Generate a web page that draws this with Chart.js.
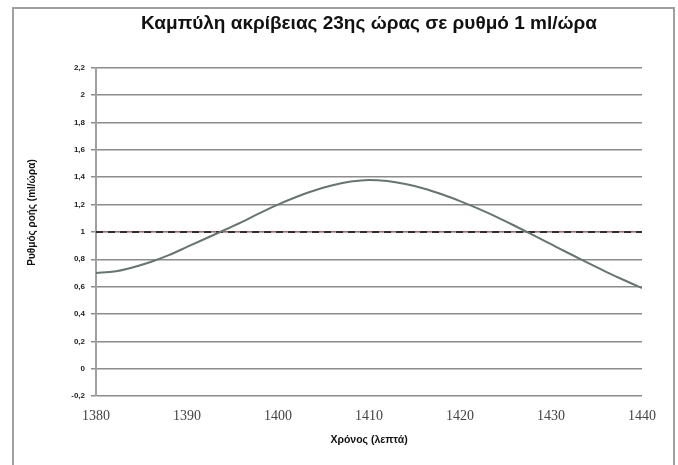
<!DOCTYPE html>
<html>
<head>
<meta charset="utf-8">
<script src="https://cdn.jsdelivr.net/npm/chart.js@4"></script>
<style>
  html, body { margin: 0; padding: 0; background: #fff; overflow: hidden; }
  #wrap { position: relative; width: 678px; height: 465px; }
  #frame { position: absolute; left: 12px; top: 7px; width: 663px; height: 470px;
           border: 2px solid #a0a0a0; box-sizing: border-box; }
  canvas { position: absolute; left: 0; top: 0; }
</style>
</head>
<body>
<div id="wrap">
  <div id="frame"></div>
  <canvas id="accuracyChart" width="678" height="465"></canvas>
</div>
<script>
// Χρόνος (λεπτά) και ρυθμός ροής, διαβασμένα από το γράφημα
const minutes = [1380, 1382, 1384, 1386, 1388, 1390, 1392, 1394, 1396, 1398, 1400,
                 1402, 1404, 1406, 1408, 1410, 1412, 1414, 1416, 1418, 1420,
                 1422, 1424, 1426, 1428, 1430, 1432, 1434, 1436, 1438, 1440];
const flowRate = [0.70, 0.71, 0.74, 0.78, 0.83, 0.89, 0.95, 1.01, 1.072, 1.138, 1.20,
                  1.255, 1.303, 1.341, 1.368, 1.38, 1.372, 1.35, 1.318, 1.275, 1.225,
                  1.17, 1.11, 1.045, 0.978, 0.91, 0.842, 0.775, 0.71, 0.648, 0.59];
const targetRate = 1; // ml/ώρα
const xTicks = [1380, 1390, 1400, 1410, 1420, 1430, 1440];
const yTicks = [-0.2, 0, 0.2, 0.4, 0.6, 0.8, 1, 1.2, 1.4, 1.6, 1.8, 2, 2.2];

const curve = minutes.map((m, i) => ({ x: m, y: flowRate[i] }));
const target = [{ x: minutes[0], y: targetRate }, { x: minutes[minutes.length - 1], y: targetRate }];

const ctx = document.getElementById('accuracyChart').getContext('2d');
new Chart(ctx, {
    type: 'line',
    data: {
        datasets: [
            {
                data: curve,
                borderColor: '#66766f',
                borderWidth: 2,
                pointRadius: 0,
                cubicInterpolationMode: 'monotone',
                order: 1
            },
            {
                data: target,
                borderColor: '#2e2e2e',
                borderWidth: 2,
                borderDash: [7, 5],
                pointRadius: 0,
                order: 2
            },
            {
                data: target,
                borderColor: 'rgba(190,70,80,0.7)',
                borderWidth: 1,
                pointRadius: 0,
                order: 3
            }
        ]
    },
    options: {
        responsive: false,
        animation: false,
        layout: { padding: { left: 0, right: 36, top: 12, bottom: 0 } },
        plugins: {
            legend: { display: false },
            tooltip: { enabled: false },
            title: {
                display: true,
                fullSize: false,
                text: 'Καμπύλη ακρίβειας 23ης ώρας σε ρυθμό 1 ml/ώρα',
                color: '#111',
                font: { family: 'Liberation Sans', size: 19, weight: 'bold' },
                padding: { top: 0, bottom: 33 }
            }
        },
        scales: {
            x: {
                type: 'linear',
                min: 1380,
                max: 1440,
                afterBuildTicks: s => { s.ticks = xTicks.map(v => ({ value: v })); },
                afterFit: s => { s.height = 69; },
                grid: { display: false, drawTicks: false },
                border: { display: false },
                ticks: {
                    padding: 12,
                    color: '#444',
                    font: { family: 'Liberation Serif', size: 14 },
                    callback: v => String(v)
                },
                title: {
                    display: true,
                    text: 'Χρόνος (λεπτά)',
                    color: '#111',
                    font: { family: 'Liberation Sans', size: 10.5, weight: 'bold' },
                    padding: { top: 0, bottom: 19 }
                }
            },
            y: {
                min: -0.2,
                max: 2.2,
                afterBuildTicks: s => { s.ticks = yTicks.map(v => ({ value: v })); },
                afterFit: s => { s.width = 96; },
                grid: { color: '#8c8c8c', lineWidth: 1.5, tickLength: 5 },
                border: { display: true, color: '#a0a0a0', width: 2 },
                ticks: {
                    padding: 6,
                    color: '#222',
                    font: { family: 'Liberation Sans', size: 8, weight: 'bold' },
                    callback: v => String(Math.round(v * 10) / 10).replace('.', ',')
                },
                title: {
                    display: true,
                    // κενά στην αρχή: ο τίτλος είναι λίγο πιο ψηλά από το κέντρο
                    text: '              Ρυθμός ροής (ml/ώρα)',
                    color: '#111',
                    font: { family: 'Liberation Sans', size: 10, weight: 'bold' },
                    padding: { top: 26, bottom: 0 }
                }
            }
        }
    }
});
</script>
</body>
</html>
